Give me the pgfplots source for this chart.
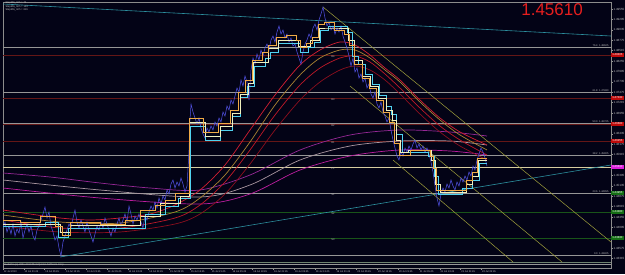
\documentclass[border=0pt]{standalone}
\usepackage{fontspec}
\setmainfont{Liberation Sans}
\usepackage{pgfplots}
\pgfplotsset{compat=1.18}
\definecolor{bg}{RGB}{3,3,22}
\definecolor{tickgray}{RGB}{190,190,190}
\definecolor{fibgray}{RGB}{150,150,150}
\definecolor{axgray}{RGB}{140,140,140}
\definecolor{grgray}{RGB}{110,130,110}
\definecolor{pricec}{RGB}{80,80,225}
\definecolor{stepo}{RGB}{240,170,70}
\definecolor{stepc}{RGB}{80,210,240}
\definecolor{stepw}{RGB}{240,240,190}
\definecolor{maru}{RGB}{210,30,50}
\definecolor{maol}{RGB}{170,130,50}
\definecolor{marl}{RGB}{190,25,40}
\definecolor{mard}{RGB}{140,15,30}
\definecolor{pu}{RGB}{150,40,150}
\definecolor{pl}{RGB}{190,30,160}
\definecolor{pg}{RGB}{170,150,160}
\definecolor{trendteal}{RGB}{45,145,160}
\definecolor{olivel}{RGB}{160,160,60}
\definecolor{hred}{RGB}{100,22,22}
\definecolor{hgreen}{RGB}{25,85,25}
\definecolor{ppc}{RGB}{215,205,160}
\definecolor{boxred}{RGB}{190,10,10}
\definecolor{boxmag}{RGB}{220,30,220}
\definecolor{boxgreen}{RGB}{20,110,20}
\definecolor{bigred}{RGB}{230,30,30}
\begin{document}
\begin{tikzpicture}
\fill[bg] (-3pt,-6pt) rectangle (622pt,268pt);
\begin{axis}[
  at={(0pt,0pt)}, anchor=south west,
  scale only axis, width=608pt, height=266pt,
  xmin=3, xmax=611, ymin=1.4308, ymax=1.4973,
  axis background/.style={fill=bg},
  axis line style={draw=axgray, line width=0.5pt},
  clip mode=individual,
  xtick pos=lower, ytick pos=upper, yticklabel pos=right,
  tick align=outside, major tick length=1.5pt,
  tick style={draw=fibgray, line width=0.3pt},
  ytick={1.43315,1.43575,1.43835,1.44095,1.44355,1.44615,1.44875,1.45135,1.45395,1.45655,1.45915,1.46175,1.46435,1.46695,1.46955,1.47215,1.47475,1.47735,1.47995,1.48255,1.48515,1.48775,1.49035,1.49295,1.49555},
  yticklabels={1.43315,1.43575,,1.44095,1.44355,1.44615,1.44875,1.45135,1.45395,,1.45915,1.46175,1.46435,,1.46955,1.47215,1.47475,1.47735,1.47995,1.48255,1.48515,1.48775,1.49035,1.49295,1.49555},
  xtick={3,23.8,...,482},
  xticklabels={12 Jul 2010,12 Jul 21:45,13 Jul 05:45,13 Jul 13:45,13 Jul 21:45,14 Jul 05:45,14 Jul 13:45,14 Jul 21:45,15 Jul 05:45,15 Jul 13:45,15 Jul 21:45,16 Jul 05:45,16 Jul 13:45,16 Jul 21:45,19 Jul 05:45,19 Jul 13:45,19 Jul 21:45,20 Jul 05:45,20 Jul 13:45,20 Jul 21:45,21 Jul 05:45,21 Jul 13:45,21 Jul 21:45,22 Jul 05:45},
  xticklabel style={font=\fontsize{2.5}{2.5}\selectfont, text=tickgray, anchor=north west, inner sep=0.6pt},
  yticklabel style={font=\fontsize{3}{3}\selectfont, text=tickgray, inner sep=0.8pt},
]
% horizontal levels
\addplot[hred, line width=0.6pt] coordinates {(3,1.48405)(611,1.48405)};
\addplot[hred, line width=0.6pt] coordinates {(3,1.4733)(611,1.4733)};
\addplot[hred, line width=0.6pt] coordinates {(3,1.4668)(611,1.4668)};
\addplot[hred, line width=0.6pt] coordinates {(3,1.46255)(611,1.46255)};
\addplot[hgreen, line width=0.6pt] coordinates {(3,1.4448)(611,1.4448)};
\addplot[hgreen, line width=0.6pt] coordinates {(3,1.4383)(611,1.4383)};
\addplot[ppc, line width=0.7pt] coordinates {(3,1.45605)(611,1.45605)};
\addplot[fibgray, line width=0.8pt] coordinates {(3,1.48605)(611,1.48605)};
\addplot[fibgray, line width=0.8pt] coordinates {(3,1.4748)(611,1.4748)};
\addplot[fibgray, line width=0.8pt] coordinates {(3,1.46705)(611,1.46705)};
\addplot[fibgray, line width=0.8pt] coordinates {(3,1.45905)(611,1.45905)};
\addplot[fibgray, line width=0.8pt] coordinates {(3,1.44955)(611,1.44955)};
\addplot[fibgray, line width=0.8pt] coordinates {(3,1.43405)(611,1.43405)};
\addplot[grgray, line width=0.6pt] coordinates {(3,1.4323)(611,1.4323)};
\addplot[fibgray, line width=0.5pt] coordinates {(3,1.4318)(611,1.4318)};
% long MAs (purple band)
\addplot[pu, line width=0.7pt, smooth] coordinates {(3,1.45455)(50,1.45355)(100,1.45205)(150,1.4508)(200,1.4503)(250,1.45405)(300,1.4603)(350,1.46405)(400,1.4653)(450,1.4648)(487,1.4638)};
\addplot[pg, line width=0.7pt, smooth] coordinates {(3,1.4528)(100,1.4503)(200,1.44855)(250,1.45155)(300,1.4578)(350,1.4613)(400,1.46255)(450,1.46255)(487,1.46155)};
\addplot[pl, line width=0.7pt, smooth] coordinates {(3,1.4508)(100,1.4483)(200,1.4468)(250,1.4493)(300,1.4553)(350,1.4588)(400,1.4603)(450,1.46005)(487,1.45905)};
% red MA band
\addplot[mard, line width=0.7pt, smooth] coordinates {(3,1.4413)(60,1.4398)(120,1.4398)(175,1.4418)(200,1.4443)(225,1.4493)(250,1.4568)(275,1.4653)(300,1.4728)(320,1.4773)(340,1.4803)(355,1.4813)(370,1.4803)(385,1.4778)(400,1.4743)(420,1.4693)(440,1.4648)(460,1.4613)(487,1.4578)};
\addplot[marl, line width=0.7pt, smooth] coordinates {(3,1.4428)(60,1.4408)(120,1.4408)(175,1.4433)(200,1.44655)(225,1.4523)(250,1.4603)(275,1.46905)(300,1.47655)(320,1.4808)(340,1.4833)(355,1.4838)(370,1.4823)(385,1.4793)(400,1.4758)(420,1.4708)(440,1.4663)(460,1.4628)(487,1.45905)};
\addplot[maol, line width=0.7pt, smooth] coordinates {(3,1.44405)(60,1.4423)(120,1.44205)(175,1.4448)(200,1.4483)(225,1.45405)(250,1.4623)(275,1.47155)(300,1.47905)(320,1.4833)(340,1.4853)(355,1.4853)(370,1.4833)(385,1.4803)(400,1.4773)(420,1.4723)(440,1.4678)(460,1.46405)(487,1.4603)};
\addplot[maru, line width=0.7pt, smooth] coordinates {(3,1.4453)(30,1.4443)(60,1.4433)(90,1.4428)(120,1.4433)(150,1.4443)(175,1.44655)(200,1.4503)(225,1.45655)(250,1.4653)(275,1.47405)(300,1.48155)(320,1.4853)(340,1.4873)(355,1.48655)(370,1.48405)(385,1.4808)(400,1.4778)(420,1.4728)(440,1.4683)(460,1.4648)(487,1.46155)};
% trend lines
\addplot[trendteal, line width=0.6pt] coordinates {(3,1.4968)(611,1.4888)};
\addplot[trendteal, line width=0.6pt] coordinates {(60,1.43355)(611,1.45655)};
\addplot[olivel, line width=0.5pt] coordinates {(323,1.49605)(611,1.4373)};
\addplot[olivel, line width=0.5pt] coordinates {(350,1.4763)(562,1.4323)};
\addplot[olivel, line width=0.5pt] coordinates {(393,1.4578)(513,1.4323)};
% price
\addplot[pricec, line width=0.5pt] coordinates {(3,1.4408)(5,1.4423)(7,1.4398)(9,1.4413)(11,1.4393)(13,1.4418)(15,1.4388)(17,1.44055)(19,1.43955)(21,1.4423)(23,1.4383)(25,1.4403)(27,1.4418)(29,1.4398)(31,1.4413)(33,1.4388)(35,1.4378)(37,1.4403)(39,1.4413)(41,1.4428)(43,1.4443)(45,1.44605)(47,1.4433)(49,1.4448)(51,1.4413)(53,1.4398)(55,1.4378)(57,1.4388)(59,1.4358)(61,1.4338)(63,1.4373)(65,1.4388)(67,1.4403)(69,1.4418)(71,1.4408)(73,1.4433)(75,1.4453)(77,1.4423)(79,1.4408)(81,1.4428)(83,1.4413)(85,1.4398)(87,1.4423)(89,1.4403)(91,1.4388)(93,1.4373)(95,1.4393)(97,1.4413)(99,1.4403)(101,1.4423)(103,1.4408)(105,1.4433)(107,1.4418)(109,1.4403)(111,1.4388)(113,1.4408)(115,1.4398)(117,1.4418)(119,1.4433)(121,1.4413)(123,1.4428)(125,1.4443)(127,1.4423)(129,1.4463)(131,1.4443)(133,1.4418)(135,1.4438)(137,1.4428)(139,1.4443)(141,1.4423)(143,1.4408)(145,1.4438)(147,1.4428)(149,1.4448)(151,1.4463)(153,1.4453)(155,1.4473)(157,1.4458)(159,1.4483)(161,1.4468)(163,1.4488)(165,1.4478)(167,1.4503)(169,1.4493)(171,1.4518)(173,1.4528)(175,1.4508)(177,1.4523)(179,1.4513)(181,1.4533)(183,1.4518)(185,1.4498)(187,1.4513)(189,1.4603)(190,1.4678)(191,1.4718)(193,1.4698)(195,1.4683)(197,1.4668)(199,1.4683)(201,1.4658)(203,1.4643)(205,1.4633)(207,1.4658)(209,1.4648)(211,1.4663)(213,1.4653)(215,1.4673)(217,1.4663)(219,1.4683)(221,1.4673)(223,1.4698)(225,1.4688)(227,1.4713)(229,1.4703)(231,1.4728)(233,1.4718)(235,1.4738)(237,1.4758)(239,1.4748)(241,1.4778)(243,1.4763)(245,1.4788)(247,1.4773)(249,1.4728)(251,1.4803)(253,1.4833)(255,1.4818)(257,1.4843)(259,1.4828)(261,1.4853)(263,1.4838)(265,1.4858)(267,1.4868)(269,1.4853)(271,1.4878)(273,1.4888)(275,1.4873)(277,1.4898)(279,1.4913)(281,1.4893)(283,1.4903)(285,1.4883)(287,1.4893)(289,1.4873)(291,1.4883)(293,1.4863)(295,1.4868)(297,1.4848)(299,1.4833)(301,1.4818)(303,1.4848)(305,1.4868)(307,1.4878)(309,1.4893)(311,1.4883)(313,1.4908)(315,1.4918)(317,1.4903)(319,1.4928)(321,1.4943)(323,1.49605)(325,1.4933)(327,1.4913)(329,1.4923)(331,1.4903)(333,1.4913)(335,1.4893)(337,1.4908)(339,1.4898)(341,1.4913)(343,1.4888)(345,1.4873)(347,1.4858)(349,1.4838)(351,1.4813)(353,1.4833)(355,1.4798)(357,1.4808)(359,1.4783)(361,1.4793)(363,1.4773)(365,1.4783)(367,1.4758)(369,1.4768)(371,1.4743)(373,1.4733)(375,1.4748)(377,1.4718)(379,1.4708)(381,1.4723)(383,1.4698)(385,1.4688)(387,1.4673)(389,1.4683)(391,1.4653)(393,1.4628)(395,1.4608)(397,1.4588)(399,1.4578)(401,1.4598)(403,1.4588)(405,1.4608)(407,1.4598)(409,1.4613)(411,1.4603)(413,1.4618)(415,1.4628)(417,1.4608)(419,1.4618)(421,1.4603)(423,1.4613)(425,1.4598)(427,1.4608)(429,1.4593)(431,1.4573)(433,1.4548)(435,1.4513)(437,1.4483)(439,1.4463)(441,1.4493)(443,1.4508)(445,1.4498)(447,1.4518)(449,1.4508)(451,1.4528)(453,1.4513)(455,1.4503)(457,1.4523)(459,1.4513)(461,1.4533)(463,1.4523)(465,1.4538)(467,1.4528)(469,1.4548)(471,1.4538)(473,1.4563)(475,1.4553)(477,1.4578)(479,1.4593)(481,1.4608)(483,1.4598)(485,1.4583)(487,1.4563)};
% step lines
\addplot[stepc, line width=0.7pt, const plot] coordinates {(3,1.4413)(45,1.4423)(58,1.43855)(68,1.4408)(145,1.4443)(165,1.4463)(178,1.4483)(190,1.4663)(205,1.4628)(220,1.4653)(232,1.4688)(240,1.47355)(247,1.4763)(254,1.4813)(265,1.4833)(270,1.4848)(278,1.48705)(300,1.4848)(308,1.48605)(314,1.4873)(320,1.4903)(328,1.4913)(347,1.4898)(352,1.4838)(358,1.4818)(365,1.4793)(372,1.4768)(379,1.47405)(386,1.4713)(391,1.4693)(396,1.4643)(402,1.4598)(428,1.4588)(434,1.4538)(438,1.4493)(462,1.4508)(472,1.4528)(479,1.45705)(487,1.45705)};
\addplot[stepw, line width=0.6pt, const plot] coordinates {(3,1.4418)(60,1.4398)(70,1.44155)(140,1.4438)(160,1.44705)(180,1.4488)(189,1.4673)(205,1.4638)(220,1.4663)(232,1.46955)(240,1.4743)(248,1.47705)(253,1.4823)(268,1.4858)(278,1.4878)(298,1.4863)(310,1.4878)(319,1.4908)(330,1.4908)(348,1.4878)(354,1.4828)(362,1.4788)(370,1.4763)(378,1.4733)(386,1.4703)(392,1.4678)(396,1.4628)(400,1.4598)(408,1.4603)(431,1.4578)(435,1.4518)(440,1.4498)(466,1.4518)(472,1.4538)(478,1.4578)(487,1.4578)};
\addplot[stepo, line width=0.7pt, const plot] coordinates {(3,1.4428)(20,1.4423)(40,1.4438)(55,1.4413)(62,1.43905)(70,1.4423)(100,1.4418)(125,1.4428)(140,1.4453)(155,1.44655)(165,1.4478)(175,1.44955)(189,1.4683)(203,1.4648)(218,1.46705)(230,1.4703)(238,1.4748)(245,1.4778)(252,1.4828)(262,1.4848)(268,1.48655)(276,1.48855)(286,1.4890)(296,1.4878)(300,1.48605)(306,1.48705)(312,1.48855)(318,1.4918)(324,1.4923)(334,1.4903)(344,1.4893)(349,1.48655)(354,1.4818)(362,1.4783)(369,1.4758)(376,1.4728)(383,1.4698)(389,1.4673)(394,1.46205)(399,1.45905)(410,1.4603)(430,1.4588)(433,1.4558)(436,1.4503)(466,1.4528)(472,1.4548)(477,1.4583)(487,1.4583)};
% texts
\node[font=\fontsize{17}{17}\selectfont, text=bigred, anchor=north east, inner sep=0pt] at (axis cs:583,1.4970) {1.45610};
\begin{scope}[every node/.style={font=\fontsize{2.6}{2.6}\selectfont, text=tickgray, inner sep=0.3pt}]
\node[anchor=west] at (axis cs:5,1.49705) {StepMA\_mtf c: 74};
\node[anchor=west] at (axis cs:5,1.49618) {StepMA\_mtf c: 144};
\node[anchor=west] at (axis cs:5,1.4953) {StepMA\_mtf c: 616};
\node[anchor=west] at (axis cs:4,1.43155) {DeltaPro (c) 2001-2010 MetaQuotes Software Corp.};
\node[anchor=south east] at (axis cs:609,1.48605) {76.4\ \ 1.48605};
\node[anchor=south east] at (axis cs:609,1.4748) {61.8\ \ 1.47480};
\node[anchor=south east] at (axis cs:609,1.46705) {50.0\ \ 1.46705};
\node[anchor=south east] at (axis cs:609,1.45905) {38.2\ \ 1.45905};
\node[anchor=south east] at (axis cs:609,1.44955) {23.6\ \ 1.44955};
\node[anchor=south east] at (axis cs:609,1.43405) {0.0\ \ 1.43405};
\node[anchor=north] at (axis cs:333,1.48405) {R4};
\node[anchor=north] at (axis cs:333,1.4733) {R3};
\node[anchor=north] at (axis cs:333,1.4668) {R2};
\node[anchor=north] at (axis cs:333,1.46255) {R1};
\node[anchor=north] at (axis cs:333,1.45605) {PP};
\node[anchor=north] at (axis cs:333,1.44955) {S1};
\node[anchor=north] at (axis cs:333,1.4448) {S2};
\node[anchor=north] at (axis cs:333,1.4383) {S3};
\end{scope}
\begin{scope}[every node/.style={font=\fontsize{2.8}{2.8}\selectfont, text=white, inner xsep=0.6pt, inner ysep=0.6pt, anchor=west, minimum width=12.5pt}]
\node[fill=boxred] at (axis cs:611,1.48405) {1.48405};
\node[fill=boxred] at (axis cs:611,1.4733) {1.47330};
\node[fill=boxred] at (axis cs:611,1.4668) {1.46680};
\node[fill=boxred] at (axis cs:611,1.46255) {1.46255};
\node[fill=boxmag] at (axis cs:611,1.45605) {1.45610};
\node[fill=boxgreen] at (axis cs:611,1.44955) {1.44955};
\node[fill=boxgreen] at (axis cs:611,1.4448) {1.44480};
\node[fill=boxgreen] at (axis cs:611,1.4383) {1.43830};
\end{scope}
\end{axis}
\pgfresetboundingbox
\path[use as bounding box] (-3pt,-6pt) rectangle (622pt,268pt);
\end{tikzpicture}
\end{document}
